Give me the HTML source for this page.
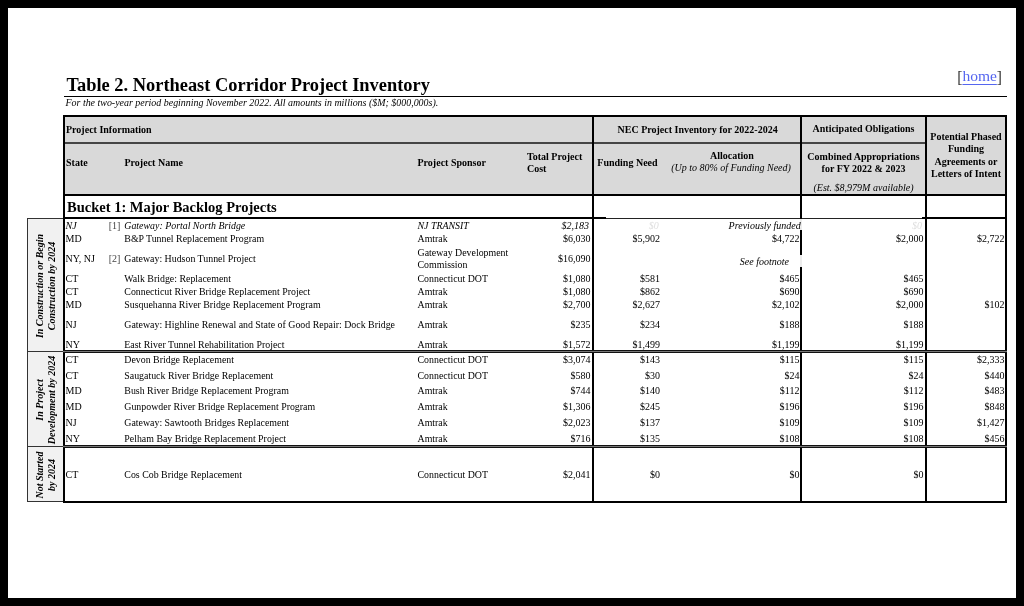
<!DOCTYPE html>
<html><head><meta charset="utf-8"><title>Table 2. Northeast Corridor Project Inventory</title>
<style>
html,body{margin:0;padding:0;background:#000;}
#pg{position:relative;width:1024px;height:606px;overflow:hidden;background:#000;font-family:"Liberation Serif", "Times New Roman", serif;color:#000;}
#wh{position:absolute;left:8px;top:8px;width:1008px;height:590px;background:#fff;}
</style></head><body><div id="pg"><div id="wh"></div>
<div style="position:absolute;left:66.5px;top:75px;font-size:18.4px;line-height:20px;font-weight:bold;font-style:normal;color:#000;white-space:nowrap;">Table 2. Northeast Corridor Project Inventory</div>
<div style="position:absolute;left:64px;top:96px;width:943px;height:1px;background:#000"></div>
<div style="position:absolute;left:65.5px;top:93px;font-size:9.95px;line-height:20px;font-weight:normal;font-style:italic;color:#000;white-space:nowrap;">For the two-year period beginning November 2022. All amounts in millions ($M; $000,000s).</div>
<div style="position:absolute;right:22px;top:66px;font-size:15.5px;line-height:20px;font-weight:normal;font-style:normal;color:#000;white-space:nowrap;"><span style="color:#333;display:inline-block;transform:translateY(0.8px) scaleY(1.12);transform-origin:50% 25%">[</span><span style="color:#5566f0;text-decoration:underline;text-underline-offset:3.2px">home</span><span style="color:#333;display:inline-block;transform:translateY(0.8px) scaleY(1.12);transform-origin:50% 25%">]</span></div>
<div style="position:absolute;left:64px;top:115px;width:943px;height:80px;background:#d9d9d9"></div>
<div style="position:absolute;left:63px;top:115px;width:944px;height:2px;background:#000"></div>
<div style="position:absolute;left:63px;top:142px;width:862px;height:2px;background:#454545"></div>
<div style="position:absolute;left:63px;top:194px;width:944px;height:2px;background:#000"></div>
<div style="position:absolute;left:63px;top:217px;width:543px;height:2px;background:#000"></div>
<div style="position:absolute;left:606px;top:217.6px;width:316px;height:1.4px;background:#222"></div>
<div style="position:absolute;left:922px;top:217px;width:85px;height:2px;background:#000"></div>
<div style="position:absolute;left:63px;top:115px;width:2px;height:388px;background:#000"></div>
<div style="position:absolute;left:592px;top:115px;width:2px;height:388px;background:#000"></div>
<div style="position:absolute;left:800px;top:115px;width:2px;height:388px;background:#000"></div>
<div style="position:absolute;left:925px;top:115px;width:2px;height:388px;background:#000"></div>
<div style="position:absolute;left:1005px;top:115px;width:2px;height:388px;background:#000"></div>
<div style="position:absolute;left:63px;top:501px;width:944px;height:2px;background:#000"></div>
<div style="position:absolute;left:63px;top:350px;width:944px;height:1px;background:#111"></div>
<div style="position:absolute;left:63px;top:351px;width:944px;height:1px;background:#777"></div>
<div style="position:absolute;left:63px;top:352px;width:944px;height:1px;background:#111"></div>
<div style="position:absolute;left:63px;top:445px;width:944px;height:1px;background:#111"></div>
<div style="position:absolute;left:63px;top:446px;width:944px;height:1px;background:#777"></div>
<div style="position:absolute;left:63px;top:447px;width:944px;height:1px;background:#111"></div>
<div style="position:absolute;left:800px;top:219px;width:2px;height:11px;background:#ececec"></div>
<div style="position:absolute;left:800px;top:255px;width:2px;height:12px;background:#ececec"></div>
<div style="position:absolute;left:28px;top:218px;width:35px;height:284px;background:#f1f1f1"></div>
<div style="position:absolute;left:27px;top:218px;width:1px;height:284px;background:#333"></div>
<div style="position:absolute;left:27px;top:218px;width:36px;height:1px;background:#333"></div>
<div style="position:absolute;left:27px;top:351px;width:36px;height:1px;background:#333"></div>
<div style="position:absolute;left:27px;top:446px;width:36px;height:1px;background:#333"></div>
<div style="position:absolute;left:27px;top:501px;width:36px;height:1px;background:#333"></div>
<div style="position:absolute;left:66px;top:120px;font-size:10px;line-height:20px;font-weight:bold;font-style:normal;color:#000;white-space:nowrap;">Project Information</div>
<div style="position:absolute;left:397.6px;width:600px;text-align:center;top:120px;font-size:10px;line-height:20px;font-weight:bold;font-style:normal;color:#000;white-space:nowrap;">NEC Project Inventory for 2022-2024</div>
<div style="position:absolute;left:563.5px;width:600px;text-align:center;top:119px;font-size:10px;line-height:20px;font-weight:bold;font-style:normal;color:#000;white-space:nowrap;">Anticipated Obligations</div>
<div style="position:absolute;left:666px;width:600px;text-align:center;top:127px;font-size:10px;line-height:20px;font-weight:bold;font-style:normal;color:#000;white-space:nowrap;">Potential Phased</div>
<div style="position:absolute;left:666px;width:600px;text-align:center;top:139px;font-size:10px;line-height:20px;font-weight:bold;font-style:normal;color:#000;white-space:nowrap;">Funding</div>
<div style="position:absolute;left:666px;width:600px;text-align:center;top:152px;font-size:10px;line-height:20px;font-weight:bold;font-style:normal;color:#000;white-space:nowrap;">Agreements or</div>
<div style="position:absolute;left:666px;width:600px;text-align:center;top:164px;font-size:10px;line-height:20px;font-weight:bold;font-style:normal;color:#000;white-space:nowrap;">Letters of Intent</div>
<div style="position:absolute;left:66px;top:153px;font-size:10px;line-height:20px;font-weight:bold;font-style:normal;color:#000;white-space:nowrap;">State</div>
<div style="position:absolute;left:124.5px;top:153px;font-size:10px;line-height:20px;font-weight:bold;font-style:normal;color:#000;white-space:nowrap;">Project Name</div>
<div style="position:absolute;left:417.5px;top:153px;font-size:10px;line-height:20px;font-weight:bold;font-style:normal;color:#000;white-space:nowrap;">Project Sponsor</div>
<div style="position:absolute;left:527px;top:147px;font-size:10px;line-height:20px;font-weight:bold;font-style:normal;color:#000;white-space:nowrap;">Total Project</div>
<div style="position:absolute;left:527px;top:159px;font-size:10px;line-height:20px;font-weight:bold;font-style:normal;color:#000;white-space:nowrap;">Cost</div>
<div style="position:absolute;left:597.3px;top:153px;font-size:10px;line-height:20px;font-weight:bold;font-style:normal;color:#000;white-space:nowrap;">Funding Need</div>
<div style="position:absolute;left:431.9px;width:600px;text-align:center;top:146px;font-size:10px;line-height:20px;font-weight:bold;font-style:normal;color:#000;white-space:nowrap;">Allocation</div>
<div style="position:absolute;left:431px;width:600px;text-align:center;top:158px;font-size:10px;line-height:20px;font-weight:normal;font-style:italic;color:#000;white-space:nowrap;">(Up to 80% of Funding Need)</div>
<div style="position:absolute;left:563.5px;width:600px;text-align:center;top:147px;font-size:10px;line-height:20px;font-weight:bold;font-style:normal;color:#000;white-space:nowrap;">Combined Appropriations</div>
<div style="position:absolute;left:563.5px;width:600px;text-align:center;top:159px;font-size:10px;line-height:20px;font-weight:bold;font-style:normal;color:#000;white-space:nowrap;">for FY 2022 &amp; 2023</div>
<div style="position:absolute;left:563.5px;width:600px;text-align:center;top:178px;font-size:10px;line-height:20px;font-weight:normal;font-style:italic;color:#000;white-space:nowrap;">(Est. $8,979M available)</div>
<div style="position:absolute;left:67px;top:197px;font-size:14.5px;line-height:20px;font-weight:bold;font-style:normal;color:#000;white-space:nowrap;">Bucket 1: Major Backlog Projects</div>
<div style="position:absolute;left:65.5px;top:216px;font-size:10px;line-height:20px;font-weight:normal;font-style:italic;color:#000;white-space:nowrap;">NJ</div>
<div style="position:absolute;left:108.7px;top:216px;font-size:10px;line-height:20px;font-weight:normal;font-style:normal;color:#444;white-space:nowrap;">[1]</div>
<div style="position:absolute;left:124.3px;top:216px;font-size:9.9px;line-height:20px;font-weight:normal;font-style:italic;color:#000;white-space:nowrap;">Gateway: Portal North Bridge</div>
<div style="position:absolute;left:417.5px;top:216px;font-size:9.9px;line-height:20px;font-weight:normal;font-style:italic;color:#000;white-space:nowrap;">NJ TRANSIT</div>
<div style="position:absolute;right:435.0px;top:216px;font-size:10px;line-height:20px;font-weight:normal;font-style:italic;color:#000;white-space:nowrap;">$2,183</div>
<div style="position:absolute;right:365.20000000000005px;top:216px;font-size:10px;line-height:20px;font-weight:normal;font-style:italic;color:#dedede;white-space:nowrap;">$0</div>
<div style="position:absolute;right:223.29999999999995px;top:216px;font-size:10px;line-height:20px;font-weight:normal;font-style:italic;color:#000;white-space:nowrap;">Previously funded</div>
<div style="position:absolute;right:102.0px;top:216px;font-size:10px;line-height:20px;font-weight:normal;font-style:italic;color:#dedede;white-space:nowrap;">$0</div>
<div style="position:absolute;left:65.5px;top:229px;font-size:10px;line-height:20px;font-weight:normal;font-style:normal;color:#000;white-space:nowrap;">MD</div>
<div style="position:absolute;left:124.3px;top:229px;font-size:9.9px;line-height:20px;font-weight:normal;font-style:normal;color:#000;white-space:nowrap;">B&amp;P Tunnel Replacement Program</div>
<div style="position:absolute;left:417.5px;top:229px;font-size:9.9px;line-height:20px;font-weight:normal;font-style:normal;color:#000;white-space:nowrap;">Amtrak</div>
<div style="position:absolute;right:433.5px;top:229px;font-size:10px;line-height:20px;font-weight:normal;font-style:normal;color:#000;white-space:nowrap;">$6,030</div>
<div style="position:absolute;right:364px;top:229px;font-size:10px;line-height:20px;font-weight:normal;font-style:normal;color:#000;white-space:nowrap;">$5,902</div>
<div style="position:absolute;right:224.5px;top:229px;font-size:10px;line-height:20px;font-weight:normal;font-style:normal;color:#000;white-space:nowrap;">$4,722</div>
<div style="position:absolute;right:100.5px;top:229px;font-size:10px;line-height:20px;font-weight:normal;font-style:normal;color:#000;white-space:nowrap;">$2,000</div>
<div style="position:absolute;right:19.5px;top:229px;font-size:10px;line-height:20px;font-weight:normal;font-style:normal;color:#000;white-space:nowrap;">$2,722</div>
<div style="position:absolute;left:65.5px;top:249px;font-size:10px;line-height:20px;font-weight:normal;font-style:normal;color:#000;white-space:nowrap;">NY, NJ</div>
<div style="position:absolute;left:108.7px;top:249px;font-size:10px;line-height:20px;font-weight:normal;font-style:normal;color:#444;white-space:nowrap;">[2]</div>
<div style="position:absolute;left:124.3px;top:249px;font-size:9.9px;line-height:20px;font-weight:normal;font-style:normal;color:#000;white-space:nowrap;">Gateway: Hudson Tunnel Project</div>
<div style="position:absolute;right:433.5px;top:249px;font-size:10px;line-height:20px;font-weight:normal;font-style:normal;color:#000;white-space:nowrap;">$16,090</div>
<div style="position:absolute;left:65.5px;top:269px;font-size:10px;line-height:20px;font-weight:normal;font-style:normal;color:#000;white-space:nowrap;">CT</div>
<div style="position:absolute;left:124.3px;top:269px;font-size:9.9px;line-height:20px;font-weight:normal;font-style:normal;color:#000;white-space:nowrap;">Walk Bridge: Replacement</div>
<div style="position:absolute;left:417.5px;top:269px;font-size:9.9px;line-height:20px;font-weight:normal;font-style:normal;color:#000;white-space:nowrap;">Connecticut DOT</div>
<div style="position:absolute;right:433.5px;top:269px;font-size:10px;line-height:20px;font-weight:normal;font-style:normal;color:#000;white-space:nowrap;">$1,080</div>
<div style="position:absolute;right:364px;top:269px;font-size:10px;line-height:20px;font-weight:normal;font-style:normal;color:#000;white-space:nowrap;">$581</div>
<div style="position:absolute;right:224.5px;top:269px;font-size:10px;line-height:20px;font-weight:normal;font-style:normal;color:#000;white-space:nowrap;">$465</div>
<div style="position:absolute;right:100.5px;top:269px;font-size:10px;line-height:20px;font-weight:normal;font-style:normal;color:#000;white-space:nowrap;">$465</div>
<div style="position:absolute;left:65.5px;top:282px;font-size:10px;line-height:20px;font-weight:normal;font-style:normal;color:#000;white-space:nowrap;">CT</div>
<div style="position:absolute;left:124.3px;top:282px;font-size:9.9px;line-height:20px;font-weight:normal;font-style:normal;color:#000;white-space:nowrap;">Connecticut River Bridge Replacement Project</div>
<div style="position:absolute;left:417.5px;top:282px;font-size:9.9px;line-height:20px;font-weight:normal;font-style:normal;color:#000;white-space:nowrap;">Amtrak</div>
<div style="position:absolute;right:433.5px;top:282px;font-size:10px;line-height:20px;font-weight:normal;font-style:normal;color:#000;white-space:nowrap;">$1,080</div>
<div style="position:absolute;right:364px;top:282px;font-size:10px;line-height:20px;font-weight:normal;font-style:normal;color:#000;white-space:nowrap;">$862</div>
<div style="position:absolute;right:224.5px;top:282px;font-size:10px;line-height:20px;font-weight:normal;font-style:normal;color:#000;white-space:nowrap;">$690</div>
<div style="position:absolute;right:100.5px;top:282px;font-size:10px;line-height:20px;font-weight:normal;font-style:normal;color:#000;white-space:nowrap;">$690</div>
<div style="position:absolute;left:65.5px;top:295px;font-size:10px;line-height:20px;font-weight:normal;font-style:normal;color:#000;white-space:nowrap;">MD</div>
<div style="position:absolute;left:124.3px;top:295px;font-size:9.9px;line-height:20px;font-weight:normal;font-style:normal;color:#000;white-space:nowrap;">Susquehanna River Bridge Replacement Program</div>
<div style="position:absolute;left:417.5px;top:295px;font-size:9.9px;line-height:20px;font-weight:normal;font-style:normal;color:#000;white-space:nowrap;">Amtrak</div>
<div style="position:absolute;right:433.5px;top:295px;font-size:10px;line-height:20px;font-weight:normal;font-style:normal;color:#000;white-space:nowrap;">$2,700</div>
<div style="position:absolute;right:364px;top:295px;font-size:10px;line-height:20px;font-weight:normal;font-style:normal;color:#000;white-space:nowrap;">$2,627</div>
<div style="position:absolute;right:224.5px;top:295px;font-size:10px;line-height:20px;font-weight:normal;font-style:normal;color:#000;white-space:nowrap;">$2,102</div>
<div style="position:absolute;right:100.5px;top:295px;font-size:10px;line-height:20px;font-weight:normal;font-style:normal;color:#000;white-space:nowrap;">$2,000</div>
<div style="position:absolute;right:19.5px;top:295px;font-size:10px;line-height:20px;font-weight:normal;font-style:normal;color:#000;white-space:nowrap;">$102</div>
<div style="position:absolute;left:65.5px;top:315px;font-size:10px;line-height:20px;font-weight:normal;font-style:normal;color:#000;white-space:nowrap;">NJ</div>
<div style="position:absolute;left:124.3px;top:315px;font-size:9.9px;line-height:20px;font-weight:normal;font-style:normal;color:#000;white-space:nowrap;">Gateway: Highline Renewal and State of Good Repair: Dock Bridge</div>
<div style="position:absolute;left:417.5px;top:315px;font-size:9.9px;line-height:20px;font-weight:normal;font-style:normal;color:#000;white-space:nowrap;">Amtrak</div>
<div style="position:absolute;right:433.5px;top:315px;font-size:10px;line-height:20px;font-weight:normal;font-style:normal;color:#000;white-space:nowrap;">$235</div>
<div style="position:absolute;right:364px;top:315px;font-size:10px;line-height:20px;font-weight:normal;font-style:normal;color:#000;white-space:nowrap;">$234</div>
<div style="position:absolute;right:224.5px;top:315px;font-size:10px;line-height:20px;font-weight:normal;font-style:normal;color:#000;white-space:nowrap;">$188</div>
<div style="position:absolute;right:100.5px;top:315px;font-size:10px;line-height:20px;font-weight:normal;font-style:normal;color:#000;white-space:nowrap;">$188</div>
<div style="position:absolute;left:65.5px;top:335px;font-size:10px;line-height:20px;font-weight:normal;font-style:normal;color:#000;white-space:nowrap;">NY</div>
<div style="position:absolute;left:124.3px;top:335px;font-size:9.9px;line-height:20px;font-weight:normal;font-style:normal;color:#000;white-space:nowrap;">East River Tunnel Rehabilitation Project</div>
<div style="position:absolute;left:417.5px;top:335px;font-size:9.9px;line-height:20px;font-weight:normal;font-style:normal;color:#000;white-space:nowrap;">Amtrak</div>
<div style="position:absolute;right:433.5px;top:335px;font-size:10px;line-height:20px;font-weight:normal;font-style:normal;color:#000;white-space:nowrap;">$1,572</div>
<div style="position:absolute;right:364px;top:335px;font-size:10px;line-height:20px;font-weight:normal;font-style:normal;color:#000;white-space:nowrap;">$1,499</div>
<div style="position:absolute;right:224.5px;top:335px;font-size:10px;line-height:20px;font-weight:normal;font-style:normal;color:#000;white-space:nowrap;">$1,199</div>
<div style="position:absolute;right:100.5px;top:335px;font-size:10px;line-height:20px;font-weight:normal;font-style:normal;color:#000;white-space:nowrap;">$1,199</div>
<div style="position:absolute;left:65.5px;top:350px;font-size:10px;line-height:20px;font-weight:normal;font-style:normal;color:#000;white-space:nowrap;">CT</div>
<div style="position:absolute;left:124.3px;top:350px;font-size:9.9px;line-height:20px;font-weight:normal;font-style:normal;color:#000;white-space:nowrap;">Devon Bridge Replacement</div>
<div style="position:absolute;left:417.5px;top:350px;font-size:9.9px;line-height:20px;font-weight:normal;font-style:normal;color:#000;white-space:nowrap;">Connecticut DOT</div>
<div style="position:absolute;right:433.5px;top:350px;font-size:10px;line-height:20px;font-weight:normal;font-style:normal;color:#000;white-space:nowrap;">$3,074</div>
<div style="position:absolute;right:364px;top:350px;font-size:10px;line-height:20px;font-weight:normal;font-style:normal;color:#000;white-space:nowrap;">$143</div>
<div style="position:absolute;right:224.5px;top:350px;font-size:10px;line-height:20px;font-weight:normal;font-style:normal;color:#000;white-space:nowrap;">$115</div>
<div style="position:absolute;right:100.5px;top:350px;font-size:10px;line-height:20px;font-weight:normal;font-style:normal;color:#000;white-space:nowrap;">$115</div>
<div style="position:absolute;right:19.5px;top:350px;font-size:10px;line-height:20px;font-weight:normal;font-style:normal;color:#000;white-space:nowrap;">$2,333</div>
<div style="position:absolute;left:65.5px;top:366px;font-size:10px;line-height:20px;font-weight:normal;font-style:normal;color:#000;white-space:nowrap;">CT</div>
<div style="position:absolute;left:124.3px;top:366px;font-size:9.9px;line-height:20px;font-weight:normal;font-style:normal;color:#000;white-space:nowrap;">Saugatuck River Bridge Replacement</div>
<div style="position:absolute;left:417.5px;top:366px;font-size:9.9px;line-height:20px;font-weight:normal;font-style:normal;color:#000;white-space:nowrap;">Connecticut DOT</div>
<div style="position:absolute;right:433.5px;top:366px;font-size:10px;line-height:20px;font-weight:normal;font-style:normal;color:#000;white-space:nowrap;">$580</div>
<div style="position:absolute;right:364px;top:366px;font-size:10px;line-height:20px;font-weight:normal;font-style:normal;color:#000;white-space:nowrap;">$30</div>
<div style="position:absolute;right:224.5px;top:366px;font-size:10px;line-height:20px;font-weight:normal;font-style:normal;color:#000;white-space:nowrap;">$24</div>
<div style="position:absolute;right:100.5px;top:366px;font-size:10px;line-height:20px;font-weight:normal;font-style:normal;color:#000;white-space:nowrap;">$24</div>
<div style="position:absolute;right:19.5px;top:366px;font-size:10px;line-height:20px;font-weight:normal;font-style:normal;color:#000;white-space:nowrap;">$440</div>
<div style="position:absolute;left:65.5px;top:381px;font-size:10px;line-height:20px;font-weight:normal;font-style:normal;color:#000;white-space:nowrap;">MD</div>
<div style="position:absolute;left:124.3px;top:381px;font-size:9.9px;line-height:20px;font-weight:normal;font-style:normal;color:#000;white-space:nowrap;">Bush River Bridge Replacement Program</div>
<div style="position:absolute;left:417.5px;top:381px;font-size:9.9px;line-height:20px;font-weight:normal;font-style:normal;color:#000;white-space:nowrap;">Amtrak</div>
<div style="position:absolute;right:433.5px;top:381px;font-size:10px;line-height:20px;font-weight:normal;font-style:normal;color:#000;white-space:nowrap;">$744</div>
<div style="position:absolute;right:364px;top:381px;font-size:10px;line-height:20px;font-weight:normal;font-style:normal;color:#000;white-space:nowrap;">$140</div>
<div style="position:absolute;right:224.5px;top:381px;font-size:10px;line-height:20px;font-weight:normal;font-style:normal;color:#000;white-space:nowrap;">$112</div>
<div style="position:absolute;right:100.5px;top:381px;font-size:10px;line-height:20px;font-weight:normal;font-style:normal;color:#000;white-space:nowrap;">$112</div>
<div style="position:absolute;right:19.5px;top:381px;font-size:10px;line-height:20px;font-weight:normal;font-style:normal;color:#000;white-space:nowrap;">$483</div>
<div style="position:absolute;left:65.5px;top:397px;font-size:10px;line-height:20px;font-weight:normal;font-style:normal;color:#000;white-space:nowrap;">MD</div>
<div style="position:absolute;left:124.3px;top:397px;font-size:9.9px;line-height:20px;font-weight:normal;font-style:normal;color:#000;white-space:nowrap;">Gunpowder River Bridge Replacement Program</div>
<div style="position:absolute;left:417.5px;top:397px;font-size:9.9px;line-height:20px;font-weight:normal;font-style:normal;color:#000;white-space:nowrap;">Amtrak</div>
<div style="position:absolute;right:433.5px;top:397px;font-size:10px;line-height:20px;font-weight:normal;font-style:normal;color:#000;white-space:nowrap;">$1,306</div>
<div style="position:absolute;right:364px;top:397px;font-size:10px;line-height:20px;font-weight:normal;font-style:normal;color:#000;white-space:nowrap;">$245</div>
<div style="position:absolute;right:224.5px;top:397px;font-size:10px;line-height:20px;font-weight:normal;font-style:normal;color:#000;white-space:nowrap;">$196</div>
<div style="position:absolute;right:100.5px;top:397px;font-size:10px;line-height:20px;font-weight:normal;font-style:normal;color:#000;white-space:nowrap;">$196</div>
<div style="position:absolute;right:19.5px;top:397px;font-size:10px;line-height:20px;font-weight:normal;font-style:normal;color:#000;white-space:nowrap;">$848</div>
<div style="position:absolute;left:65.5px;top:413px;font-size:10px;line-height:20px;font-weight:normal;font-style:normal;color:#000;white-space:nowrap;">NJ</div>
<div style="position:absolute;left:124.3px;top:413px;font-size:9.9px;line-height:20px;font-weight:normal;font-style:normal;color:#000;white-space:nowrap;">Gateway: Sawtooth Bridges Replacement</div>
<div style="position:absolute;left:417.5px;top:413px;font-size:9.9px;line-height:20px;font-weight:normal;font-style:normal;color:#000;white-space:nowrap;">Amtrak</div>
<div style="position:absolute;right:433.5px;top:413px;font-size:10px;line-height:20px;font-weight:normal;font-style:normal;color:#000;white-space:nowrap;">$2,023</div>
<div style="position:absolute;right:364px;top:413px;font-size:10px;line-height:20px;font-weight:normal;font-style:normal;color:#000;white-space:nowrap;">$137</div>
<div style="position:absolute;right:224.5px;top:413px;font-size:10px;line-height:20px;font-weight:normal;font-style:normal;color:#000;white-space:nowrap;">$109</div>
<div style="position:absolute;right:100.5px;top:413px;font-size:10px;line-height:20px;font-weight:normal;font-style:normal;color:#000;white-space:nowrap;">$109</div>
<div style="position:absolute;right:19.5px;top:413px;font-size:10px;line-height:20px;font-weight:normal;font-style:normal;color:#000;white-space:nowrap;">$1,427</div>
<div style="position:absolute;left:65.5px;top:429px;font-size:10px;line-height:20px;font-weight:normal;font-style:normal;color:#000;white-space:nowrap;">NY</div>
<div style="position:absolute;left:124.3px;top:429px;font-size:9.9px;line-height:20px;font-weight:normal;font-style:normal;color:#000;white-space:nowrap;">Pelham Bay Bridge Replacement Project</div>
<div style="position:absolute;left:417.5px;top:429px;font-size:9.9px;line-height:20px;font-weight:normal;font-style:normal;color:#000;white-space:nowrap;">Amtrak</div>
<div style="position:absolute;right:433.5px;top:429px;font-size:10px;line-height:20px;font-weight:normal;font-style:normal;color:#000;white-space:nowrap;">$716</div>
<div style="position:absolute;right:364px;top:429px;font-size:10px;line-height:20px;font-weight:normal;font-style:normal;color:#000;white-space:nowrap;">$135</div>
<div style="position:absolute;right:224.5px;top:429px;font-size:10px;line-height:20px;font-weight:normal;font-style:normal;color:#000;white-space:nowrap;">$108</div>
<div style="position:absolute;right:100.5px;top:429px;font-size:10px;line-height:20px;font-weight:normal;font-style:normal;color:#000;white-space:nowrap;">$108</div>
<div style="position:absolute;right:19.5px;top:429px;font-size:10px;line-height:20px;font-weight:normal;font-style:normal;color:#000;white-space:nowrap;">$456</div>
<div style="position:absolute;left:65.5px;top:465px;font-size:10px;line-height:20px;font-weight:normal;font-style:normal;color:#000;white-space:nowrap;">CT</div>
<div style="position:absolute;left:124.3px;top:465px;font-size:9.9px;line-height:20px;font-weight:normal;font-style:normal;color:#000;white-space:nowrap;">Cos Cob Bridge Replacement</div>
<div style="position:absolute;left:417.5px;top:465px;font-size:9.9px;line-height:20px;font-weight:normal;font-style:normal;color:#000;white-space:nowrap;">Connecticut DOT</div>
<div style="position:absolute;right:433.5px;top:465px;font-size:10px;line-height:20px;font-weight:normal;font-style:normal;color:#000;white-space:nowrap;">$2,041</div>
<div style="position:absolute;right:364px;top:465px;font-size:10px;line-height:20px;font-weight:normal;font-style:normal;color:#000;white-space:nowrap;">$0</div>
<div style="position:absolute;right:224.5px;top:465px;font-size:10px;line-height:20px;font-weight:normal;font-style:normal;color:#000;white-space:nowrap;">$0</div>
<div style="position:absolute;right:100.5px;top:465px;font-size:10px;line-height:20px;font-weight:normal;font-style:normal;color:#000;white-space:nowrap;">$0</div>
<div style="position:absolute;left:417.5px;top:243px;font-size:9.9px;line-height:20px;font-weight:normal;font-style:normal;color:#000;white-space:nowrap;">Gateway Development</div>
<div style="position:absolute;left:417.5px;top:255px;font-size:9.9px;line-height:20px;font-weight:normal;font-style:normal;color:#000;white-space:nowrap;">Commission</div>
<div style="position:absolute;right:235px;top:252px;font-size:10px;line-height:20px;font-weight:normal;font-style:italic;color:#000;white-space:nowrap;">See footnote</div>
<div style="position:absolute;left:-104px;top:270.9px;width:300px;height:30px;display:flex;align-items:center;justify-content:center;transform:rotate(-90deg);font-size:10px;line-height:11.7px;font-weight:bold;font-style:italic;text-align:center;white-space:nowrap"><div>In Construction or Begin<br>Construction by 2024</div></div>
<div style="position:absolute;left:-104px;top:384.8px;width:300px;height:30px;display:flex;align-items:center;justify-content:center;transform:rotate(-90deg);font-size:10px;line-height:11.7px;font-weight:bold;font-style:italic;text-align:center;white-space:nowrap"><div>In Project<br>Development by 2024</div></div>
<div style="position:absolute;left:-104px;top:460.3px;width:300px;height:30px;display:flex;align-items:center;justify-content:center;transform:rotate(-90deg);font-size:10px;line-height:11.7px;font-weight:bold;font-style:italic;text-align:center;white-space:nowrap"><div>Not Started<br>by 2024</div></div>
</div></body></html>
